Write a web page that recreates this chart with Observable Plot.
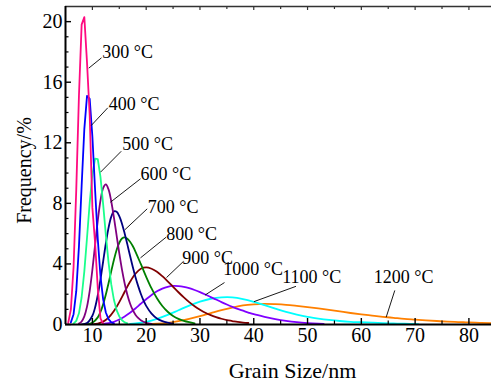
<!DOCTYPE html>
<html>
<head>
<meta charset="utf-8">
<script src="https://cdn.jsdelivr.net/npm/d3@7"></script>
<script src="https://cdn.jsdelivr.net/npm/@observablehq/plot@0.6"></script>
<style>
  html, body { margin: 0; padding: 0; background: #fff; overflow: hidden; }
  svg text { font-family: 'Liberation Serif', 'Times New Roman', Times, serif; }
</style>
</head>
<body>
<div id="chart"></div>
<script>
// ---- data (grain size nm, frequency %) ----
const s300 = [[5.5,0.1],[6.0,1.0],[6.5,3.8],[7.0,8.9],[7.5,15.1],[8.0,19.8],[8.5,20.3],[9.0,17.3],[9.5,13.8],[10.0,7.7],[10.5,5.4],[11.0,2.4],[11.5,0.4],[12.0,0.05]];
const s400 = [[6.0,0.14],[6.5,0.68],[7.0,2.2],[7.5,5.16],[8.0,9.15],[8.5,12.9],[9.0,15.1],[9.5,14.9],[10.0,12.4],[10.5,8.9],[11.0,5.65],[11.5,3.2],[12.0,1.66],[12.5,0.79],[13.0,0.35],[13.5,0.15],[14.0,0.06]];
const s500 = [[6.5,0.06],[7.0,0.24],[7.5,0.74],[8.0,1.8],[8.5,3.51],[9.0,5.73],[9.5,8.04],[10.0,9.91],[10.5,10.95],[11.0,10.92],[11.5,9.75],[12.0,7.93],[12.5,5.92],[13.0,4.10],[13.5,2.66],[14.0,1.63],[14.5,0.95],[15.0,0.53],[15.5,0.28],[16.0,0.14],[16.5,0.07]];
const s600 = [[7.5,0.06],[8.0,0.2],[8.5,0.54],[9.0,1.18],[9.5,2.22],[10.0,3.62],[10.5,5.25],[11.0,6.86],[11.5,8.18],[12.0,9.01],[12.5,9.25],[13.0,8.92],[13.5,8.14],[14.0,7.07],[14.5,5.88],[15.0,4.70],[15.5,3.62],[16.0,2.71],[16.5,1.97],[17.0,1.39],[17.5,0.96],[18.0,0.65],[18.5,0.43],[19.0,0.28],[20.0,0.11],[21.0,0.04]];
const s700 = [[8.0,0.01],[9.0,0.10],[10.0,0.58],[10.5,1.12],[11.0,1.93],[11.5,2.97],[12.0,4.16],[12.5,5.35],[13.0,6.38],[13.5,7.11],[14.0,7.47],[14.5,7.45],[15.0,7.16],[15.5,6.66],[16.0,6.01],[16.5,5.29],[17.0,4.54],[17.5,3.81],[18.0,3.14],[18.5,2.55],[19.0,2.03],[19.5,1.59],[20.0,1.23],[21.0,0.72],[22.0,0.40],[23.0,0.22],[24.0,0.12],[25.0,0.06]];
const s800 = [[9.0,0.01],[10.0,0.11],[11.0,0.47],[11.5,0.83],[12.0,1.33],[12.5,1.98],[13.0,2.72],[13.5,3.51],[14.0,4.26],[14.5,4.92],[15.0,5.40],[15.5,5.68],[16.0,5.75],[16.5,5.66],[17.0,5.46],[17.5,5.18],[18.0,4.82],[19.0,4.0],[20.0,3.15],[21.0,2.38],[22.0,1.73],[23.0,1.22],[24.0,0.84],[25.0,0.56],[26.0,0.37],[27.0,0.24],[28.0,0.15],[29.0,0.08]];
const s900 = [[10,0.015],[11,0.06],[12,0.19],[13,0.45],[14,0.89],[15,1.48],[16,2.16],[17,2.82],[18,3.35],[19,3.68],[20,3.77],[21,3.68],[22,3.48],[23,3.19],[24,2.85],[25,2.49],[26,2.13],[27,1.79],[28,1.48],[29,1.21],[30,0.98],[31,0.78],[32,0.62],[33,0.49],[34,0.38],[35,0.29],[36,0.23],[37,0.17],[38,0.13],[39,0.10]];
const s1000 = [[12,0.04],[13,0.09],[14,0.18],[15,0.33],[16,0.53],[17,0.77],[18,1.06],[19,1.37],[20,1.67],[21,1.95],[22,2.19],[23,2.37],[24,2.49],[25,2.55],[26,2.54],[27,2.49],[28,2.40],[29,2.28],[30,2.14],[31,1.98],[32,1.81],[33,1.65],[34,1.48],[35,1.32],[36,1.17],[37,1.03],[38,0.91],[39,0.79],[40,0.68],[42,0.51],[44,0.36],[46,0.24],[48,0.15],[50,0.09],[52,0.05],[53,0.04]];
const s1100 = [[17,0.04],[18,0.07],[20,0.18],[22,0.37],[24,0.63],[26,0.94],[28,1.25],[30,1.51],[32,1.70],[34,1.79],[36,1.79],[38,1.68],[40,1.50],[42,1.28],[44,1.05],[46,0.83],[48,0.65],[50,0.50],[52,0.39],[54,0.30],[56,0.23],[58,0.18],[60,0.15],[62,0.12],[64,0.09],[66,0.07],[68,0.05],[70,0.04],[70.6,0.03]];
const s1200 = [[20,0.02],[22,0.05],[24,0.11],[26,0.22],[28,0.37],[30,0.55],[32,0.75],[34,0.95],[36,1.12],[38,1.26],[40,1.33],[42,1.36],[44,1.34],[46,1.30],[48,1.23],[50,1.15],[52,1.06],[54,0.96],[56,0.86],[58,0.76],[60,0.67],[62,0.59],[64,0.51],[66,0.44],[68,0.37],[70,0.32],[72,0.27],[74,0.23],[76,0.19],[78,0.16],[80,0.14],[82,0.11],[84,0.09],[86,0.08]];

const seriesNames = ["300 °C","400 °C","500 °C","600 °C","700 °C","800 °C","900 °C","1000 °C","1100 °C","1200 °C"];
const seriesData = [s300, s400, s500, s600, s700, s800, s900, s1000, s1100, s1200];

// annotation label anchors (data coordinates) and leader lines
const labelX = [11.82, 13.05, 15.54, 18.94, 20.30, 23.72, 26.70, 34.32, 45.29, 62.32];
const labelY = [17.96, 14.53, 11.89, 9.91, 7.75, 5.94, 4.39, 3.68, 3.12, 3.10];
const leaderFrom = [[9.33,16.93],[9.78,13.14],[11.51,10.06],[13.37,8.08],[16.02,6.25],[18.94,4.40],[23.78,3.10],[30.93,1.94],[40.04,1.51],[64.62,0.48]];
const leaderTo = [[11.69,17.61],[12.86,14.31],[15.36,11.44],[18.94,9.62],[20.19,7.64],[23.72,5.77],[26.94,4.17],[34.56,2.77],[47.85,2.52],[66.22,2.25]];

const xMajor = [10, 20, 30, 40, 50, 60, 70, 80];
const xMinor = [15, 25, 35, 45, 55, 65, 75];
const yMajor = [0, 4, 8, 12, 16, 20];
const yMinor = [1, 2, 3, 5, 6, 7, 9, 10, 11, 13, 14, 15, 17, 18, 19];
const xDomain = [5, 84.2];
const yDomain = [0, 21];

// ---- styles ----
const colors = ["#ff0a80", "#0000ff", "#1aff8c", "#800080", "#000080", "#008000", "#800000", "#8000ff", "#00ffff", "#ff8000"];
const linearCurves = ["300 °C", "400 °C", "500 °C"];

const W = 492, H = 383;
const mL = 65, mR = 1, mT = 6, mB = 59;
const plotW = W - mL - mR, plotH = H - mT - mB;
const serif = "'Liberation Serif', 'Times New Roman', Times, serif";

const lineMarks = [];
for (let i = seriesData.length - 1; i >= 0; i--) {
  lineMarks.push(Plot.line(seriesData[i], {
    x: d => d[0], y: d => d[1],
    stroke: colors[i], strokeWidth: 1.8,
    curve: linearCurves.includes(seriesNames[i]) ? "linear" : "catmull-rom",
    clip: true
  }));
}

const labels = seriesNames.map((t, i) => ({text: t, x: labelX[i], y: labelY[i]}));
const leaders = leaderFrom.map((p, i) => ({x1: p[0], y1: p[1], x2: leaderTo[i][0], y2: leaderTo[i][1]}));

const chart = Plot.plot({
  width: W, height: H,
  marginLeft: mL, marginRight: mR, marginTop: mT, marginBottom: mB,
  x: {domain: xDomain, label: null},
  y: {domain: yDomain, label: null},
  style: {fontFamily: serif, background: "#fff", color: "#000"},
  marks: [
    ...lineMarks,
    Plot.link(leaders, {x1: "x1", y1: "y1", x2: "x2", y2: "y2", stroke: "#000", strokeWidth: 0.9}),
    Plot.text(labels, {x: "x", y: "y", text: "text", textAnchor: "start", lineAnchor: "middle", fontSize: 18, fontFamily: serif, fill: "#000"}),
    // inward ticks
    Plot.tickY(yMajor, {y: d => d, insetRight: plotW - 6, stroke: "#000", strokeWidth: 1.4}),
    Plot.tickY(yMinor, {y: d => d, insetRight: plotW - 3.5, stroke: "#000", strokeWidth: 1.2}),
    Plot.tickX(xMajor, {x: d => d, insetTop: plotH - 6, stroke: "#000", strokeWidth: 1.4}),
    Plot.tickX(xMinor, {x: d => d, insetTop: plotH - 3.5, stroke: "#000", strokeWidth: 1.2}),
    Plot.tickX(xMajor, {x: d => d, insetBottom: plotH - 4, stroke: "#333", strokeWidth: 1.2}),
    Plot.tickX(xMinor, {x: d => d, insetBottom: plotH - 3, stroke: "#333", strokeWidth: 1.2}),
    // frame lines
    Plot.ruleY([yDomain[1]], {stroke: "#333", strokeWidth: 1.6}),
    Plot.ruleX([xDomain[0]], {stroke: "#000", strokeWidth: 2}),
    Plot.ruleY([yDomain[0]], {stroke: "#000", strokeWidth: 2}),
    // tick labels
    Plot.axisX(xMajor, {tickSize: 0, tickPadding: 3, fontSize: 20, fontFamily: serif, fontVariant: "normal", label: null}),
    Plot.axisY(yMajor, {tickSize: 0, tickPadding: 3, fontSize: 20, fontFamily: serif, fontVariant: "normal", label: null}),
    // axis titles
    Plot.text(["Grain Size/nm"], {frameAnchor: "bottom", dx: 14, dy: 53, textAnchor: "middle", lineAnchor: "bottom", fontSize: 22, fontFamily: serif, fill: "#000"}),
    Plot.text(["Frequency/%"], {frameAnchor: "left", dx: -35, dy: 5, rotate: -90, textAnchor: "middle", lineAnchor: "bottom", fontSize: 20, fontFamily: serif, fill: "#000"})
  ]
});
document.getElementById("chart").appendChild(chart);
</script>
</body>
</html>
